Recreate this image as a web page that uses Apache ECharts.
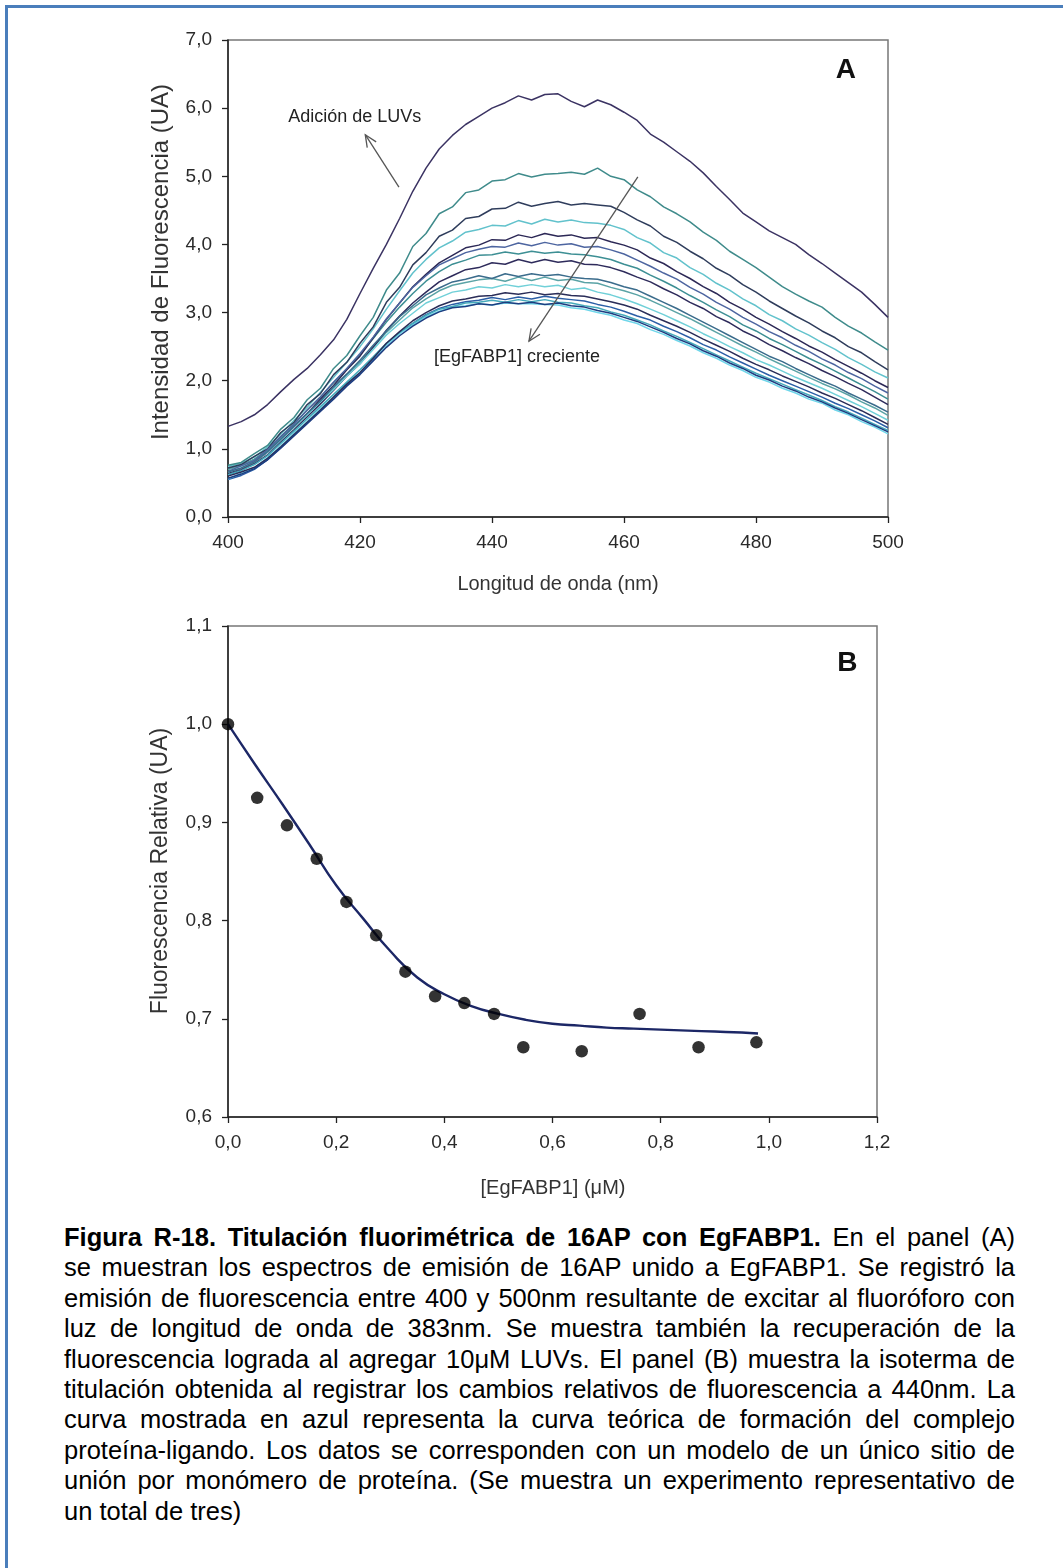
<!DOCTYPE html>
<html>
<head>
<meta charset="utf-8">
<script src="https://cdn.jsdelivr.net/npm/echarts@6/dist/echarts.min.js"></script>
<style>
  html, body { margin: 0; padding: 0; background: #fff; }
  #page { position: relative; width: 1063px; height: 1568px; overflow: hidden; background: #fff; }
  #frame { position: absolute; left: 5px; top: 5px; width: 1200px; height: 1700px;
           border-left: 3px solid #4a7ebb; border-top: 3px solid #4a7ebb; }
  #chart { position: absolute; left: 0; top: 0; width: 1063px; height: 1210px; }
  #caption { position: absolute; left: 64px; top: 1222px; width: 951px;
             font-family: 'Liberation Sans', Arial, sans-serif; font-size: 25.5px;
             line-height: 30.4px; color: #000; }
  #caption div { text-align: justify; text-align-last: justify; }
  #caption div.last { text-align-last: left; }
</style>
</head>
<body>
<div id="page">
  <div id="frame"></div>
  <div id="chart"></div>
  <div id="caption">
    <div><b>Figura R-18. Titulación fluorimétrica de 16AP con EgFABP1.</b> En el panel (A)</div>
    <div>se muestran los espectros de emisión de 16AP unido a EgFABP1. Se registró la</div>
    <div>emisión de fluorescencia entre 400 y 500nm resultante de excitar al fluoróforo con</div>
    <div>luz de longitud de onda de 383nm. Se muestra también la recuperación de la</div>
    <div>fluorescencia lograda al agregar 10μM LUVs. El panel (B) muestra la isoterma de</div>
    <div>titulación obtenida al registrar los cambios relativos de fluorescencia a 440nm. La</div>
    <div>curva mostrada en azul representa la curva teórica de formación del complejo</div>
    <div>proteína-ligando. Los datos se corresponden con un modelo de un único sitio de</div>
    <div>unión por monómero de proteína. (Se muestra un experimento representativo de</div>
    <div class="last">un total de tres)</div>
  </div>
</div>
<script>
// panel A: emission spectra, wavelength (nm)
const wavelength = [400,402,404,406,408,410,412,414,416,418,420,422,424,426,428,430,432,434,436,438,440,
  442,444,446,448,450,452,454,456,458,460,462,464,466,468,470,472,474,476,478,480,482,484,486,488,490,492,494,496,498,500];

// after adding LUVs
const specLUVs = [1.33,1.40,1.50,1.65,1.84,2.02,2.18,2.38,2.60,2.90,3.28,3.65,4.00,4.38,4.78,5.12,5.40,5.60,5.76,5.88,
  6.00,6.08,6.18,6.12,6.20,6.21,6.10,6.02,6.12,6.05,5.94,5.82,5.62,5.50,5.36,5.22,5.05,4.85,4.66,4.46,4.33,
  4.20,4.10,4.00,3.85,3.72,3.58,3.44,3.30,3.12,2.93];

// titration spectra, increasing [EgFABP1] (top to bottom)
const spec02 = [0.76,0.80,0.93,1.05,1.29,1.46,1.72,1.89,2.18,2.37,2.66,2.93,3.33,3.58,3.97,4.16,4.45,4.55,4.76,4.80,
  4.93,4.95,5.04,4.99,5.03,5.04,5.06,5.03,5.12,5.00,4.95,4.80,4.70,4.55,4.45,4.33,4.18,4.06,3.90,3.78,3.66,
  3.52,3.38,3.27,3.17,3.08,2.93,2.80,2.70,2.57,2.45];
const spec03 = [0.72,0.77,0.89,1.00,1.24,1.39,1.65,1.81,2.09,2.27,2.55,2.79,3.15,3.37,3.70,3.88,4.12,4.21,4.38,4.41,
  4.52,4.53,4.62,4.56,4.60,4.63,4.58,4.60,4.58,4.56,4.47,4.36,4.27,4.12,4.03,3.90,3.79,3.65,3.55,3.41,3.30,
  3.17,3.06,2.95,2.85,2.73,2.63,2.50,2.41,2.28,2.16];
const spec04 = [0.74,0.79,0.88,1.03,1.22,1.42,1.61,1.83,2.05,2.27,2.50,2.76,3.05,3.32,3.58,3.78,3.95,4.05,4.18,4.22,
  4.28,4.27,4.35,4.30,4.37,4.33,4.36,4.32,4.31,4.28,4.22,4.10,4.02,3.88,3.80,3.66,3.56,3.43,3.33,3.20,3.10,
  2.97,2.88,2.76,2.67,2.56,2.46,2.34,2.24,2.13,2.04];
const spec05 = [0.64,0.71,0.80,0.95,1.13,1.33,1.52,1.73,1.93,2.16,2.36,2.63,2.90,3.14,3.38,3.56,3.73,3.84,3.95,3.99,
  4.07,4.06,4.14,4.10,4.16,4.12,4.14,4.09,4.10,4.04,3.99,3.92,3.80,3.72,3.60,3.50,3.38,3.28,3.15,3.05,2.93,
  2.83,2.72,2.62,2.51,2.42,2.31,2.21,2.11,2.00,1.90];
const spec06 = [0.67,0.75,0.83,0.99,1.18,1.36,1.57,1.76,1.98,2.18,2.40,2.64,2.91,3.14,3.37,3.54,3.70,3.79,3.88,3.93,
  3.97,3.96,4.02,3.98,4.03,3.99,4.01,3.96,3.97,3.92,3.86,3.77,3.68,3.58,3.49,3.37,3.27,3.15,3.05,2.93,2.83,
  2.72,2.63,2.52,2.43,2.32,2.23,2.12,2.03,1.92,1.82];
const spec07 = [0.70,0.76,0.85,0.99,1.18,1.37,1.57,1.76,1.97,2.17,2.38,2.62,2.86,3.08,3.28,3.46,3.60,3.71,3.77,3.84,
  3.85,3.89,3.86,3.90,3.87,3.89,3.86,3.85,3.82,3.78,3.71,3.65,3.55,3.46,3.36,3.25,3.15,3.04,2.94,2.82,2.73,
  2.62,2.53,2.43,2.33,2.24,2.14,2.04,1.94,1.84,1.73];
const spec08 = [0.62,0.69,0.78,0.91,1.10,1.28,1.47,1.66,1.86,2.07,2.25,2.49,2.74,2.95,3.14,3.30,3.45,3.54,3.63,3.66,
  3.73,3.71,3.78,3.73,3.78,3.74,3.76,3.71,3.70,3.66,3.60,3.52,3.45,3.35,3.26,3.15,3.06,2.94,2.85,2.73,2.64,
  2.53,2.44,2.34,2.25,2.15,2.06,1.96,1.87,1.76,1.65];
const spec09 = [0.66,0.72,0.81,0.96,1.14,1.33,1.52,1.70,1.91,2.10,2.30,2.52,2.73,2.94,3.10,3.26,3.36,3.45,3.49,3.54,
  3.50,3.57,3.53,3.57,3.54,3.56,3.52,3.50,3.49,3.44,3.38,3.33,3.24,3.15,3.06,2.96,2.86,2.76,2.66,2.56,2.46,
  2.36,2.28,2.18,2.09,2.00,1.92,1.82,1.73,1.64,1.54];
const spec10 = [0.70,0.75,0.84,0.97,1.15,1.33,1.51,1.70,1.89,2.08,2.28,2.49,2.71,2.89,3.07,3.20,3.32,3.40,3.44,3.48,
  3.50,3.46,3.52,3.47,3.52,3.47,3.49,3.44,3.43,3.37,3.32,3.26,3.18,3.09,3.00,2.91,2.81,2.71,2.61,2.51,2.42,
  2.32,2.23,2.14,2.05,1.96,1.88,1.79,1.69,1.60,1.49];
const spec11 = [0.66,0.72,0.81,0.95,1.13,1.32,1.50,1.69,1.87,2.07,2.25,2.46,2.67,2.84,2.99,3.14,3.22,3.30,3.33,3.38,
  3.36,3.41,3.38,3.41,3.38,3.40,3.34,3.36,3.30,3.26,3.20,3.13,3.05,2.97,2.88,2.79,2.69,2.60,2.50,2.41,2.31,
  2.23,2.14,2.05,1.97,1.89,1.80,1.71,1.62,1.52,1.42];
const spec12 = [0.60,0.66,0.73,0.86,1.03,1.21,1.39,1.57,1.76,1.95,2.12,2.33,2.55,2.72,2.88,3.00,3.10,3.17,3.20,3.24,
  3.25,3.29,3.27,3.30,3.26,3.28,3.25,3.24,3.20,3.16,3.11,3.05,2.96,2.88,2.80,2.71,2.61,2.52,2.43,2.33,2.24,
  2.16,2.07,1.99,1.91,1.82,1.74,1.65,1.56,1.46,1.36];
const spec13 = [0.55,0.61,0.70,0.84,1.02,1.20,1.38,1.57,1.75,1.94,2.11,2.31,2.52,2.70,2.84,2.97,3.06,3.12,3.16,3.18,
  3.22,3.19,3.23,3.20,3.24,3.21,3.19,3.17,3.12,3.08,3.02,2.95,2.89,2.80,2.72,2.63,2.53,2.45,2.35,2.26,2.17,
  2.08,2.00,1.92,1.84,1.76,1.67,1.59,1.50,1.41,1.31];
const spec14 = [0.62,0.68,0.77,0.90,1.08,1.26,1.44,1.62,1.80,1.98,2.16,2.35,2.55,2.71,2.84,2.96,3.05,3.09,3.14,3.15,
  3.18,3.15,3.19,3.16,3.19,3.15,3.14,3.10,3.07,3.01,2.96,2.89,2.82,2.73,2.65,2.56,2.47,2.38,2.29,2.20,2.11,
  2.03,1.95,1.87,1.79,1.71,1.62,1.54,1.45,1.36,1.27];
const spec15 = [0.57,0.63,0.71,0.84,1.01,1.19,1.37,1.55,1.73,1.92,2.09,2.29,2.49,2.66,2.80,2.92,3.01,3.07,3.09,3.13,
  3.11,3.15,3.13,3.15,3.12,3.14,3.10,3.08,3.03,2.99,2.93,2.87,2.79,2.71,2.62,2.54,2.44,2.36,2.26,2.18,2.08,
  2.01,1.92,1.85,1.76,1.69,1.60,1.52,1.43,1.34,1.25];
const spec16 = [0.56,0.64,0.72,0.87,1.04,1.23,1.40,1.59,1.76,1.96,2.12,2.33,2.52,2.69,2.82,2.94,3.02,3.08,3.10,3.13,
  3.11,3.14,3.13,3.13,3.12,3.11,3.07,3.05,3.00,2.96,2.89,2.84,2.75,2.68,2.59,2.51,2.41,2.33,2.23,2.15,2.05,
  1.98,1.89,1.82,1.73,1.67,1.57,1.50,1.40,1.32,1.22];

const spectra = [specLUVs, spec02, spec03, spec04, spec05, spec06, spec07, spec08,
  spec09, spec10, spec11, spec12, spec13, spec14, spec15, spec16];
const specColors = ['#3b3363', '#3f8b8b', '#2f3d5c', '#62c2cc', '#2c2856', '#4d65a0', '#3d8f94', '#2e2b5b',
  '#3b6c8c', '#5aa3a6', '#70d0d8', '#2a2d58', '#2b5ea6', '#45aabb', '#1d3d80', '#6fd6ea'];

// panel B: titration isotherm at 440 nm
const conc = [0, 0.054, 0.109, 0.164, 0.219, 0.274, 0.328, 0.383, 0.437, 0.492, 0.546, 0.654, 0.761, 0.870, 0.977];
const relFluor = [1.000, 0.925, 0.897, 0.863, 0.819, 0.785, 0.748, 0.723, 0.716, 0.705, 0.671, 0.667, 0.705, 0.671, 0.676];
// theoretical binding curve
const fitConc = [0, 0.05, 0.10, 0.15, 0.20, 0.25, 0.30, 0.35, 0.40, 0.45, 0.50, 0.55, 0.60, 0.65, 0.70, 0.75, 0.80, 0.85, 0.90, 0.95, 0.98];
const fitRel = [1.000, 0.959, 0.919, 0.878, 0.836, 0.802, 0.769, 0.742, 0.725, 0.713, 0.705, 0.699, 0.695, 0.693, 0.691, 0.690, 0.689, 0.688, 0.687, 0.686, 0.685];

// annotations (data units of panel A / B)
const luvsText = [419.2, 5.87];
const luvsArrow = [[425.9, 4.84], [420.8, 5.61]];
const crecText = [443.8, 2.35];
const crecArrow = [[462.1, 4.99], [445.6, 2.58]];
const letterA = [493.6, 6.56];
const letterB = [1.145, 1.062];

const FONT = "'Liberation Sans', Arial, sans-serif";
const comma = d => v => v.toFixed(d).replace('.', ',');

const chart = echarts.init(document.getElementById('chart'));

function axisCommon(fmt) {
  return {
    axisLine: { show: true, onZero: false, lineStyle: { color: '#222', width: 1.5 } },
    axisTick: { show: true, length: 6, lineStyle: { color: '#222', width: 1.3 } },
    axisLabel: { fontSize: 19, color: '#2a2a2a', fontFamily: FONT, margin: 16, formatter: fmt },
    splitLine: { show: false }
  };
}

const seriesArr = spectra.map((arr, i) => ({
  name: i === 0 ? 'LUVs' : 'S' + i,
  type: 'line',
  xAxisIndex: 0,
  yAxisIndex: 0,
  data: wavelength.map((w, k) => [w, arr[k]]),
  showSymbol: false,
  lineStyle: { color: specColors[i], width: 1.5 },
  z: 2 + (i % 3)
}));

seriesArr.push({
  type: 'line',
  xAxisIndex: 1,
  yAxisIndex: 1,
  data: fitConc.map((c, k) => [c, fitRel[k]]),
  smooth: true,
  showSymbol: false,
  lineStyle: { color: '#1c2766', width: 2.4 },
  z: 3
});
seriesArr.push({
  type: 'scatter',
  xAxisIndex: 1,
  yAxisIndex: 1,
  data: conc.map((c, k) => [c, relFluor[k]]),
  symbolSize: 12.5,
  itemStyle: { color: '#000' },
  z: 4
});

chart.setOption({
  animation: false,
  backgroundColor: 'transparent',
  grid: [
    { left: 228, top: 40, width: 660, height: 477, show: true, borderColor: '#777', borderWidth: 1.5 },
    { left: 228, top: 626, width: 649, height: 491, show: true, borderColor: '#777', borderWidth: 1.5 }
  ],
  xAxis: [
    Object.assign({ type: 'value', gridIndex: 0, min: 400, max: 500, interval: 20 }, axisCommon(v => String(v))),
    Object.assign({ type: 'value', gridIndex: 1, min: 0, max: 1.2, interval: 0.2 }, axisCommon(comma(1)))
  ],
  yAxis: [
    Object.assign({ type: 'value', gridIndex: 0, min: 0, max: 7, interval: 1 }, axisCommon(comma(1))),
    Object.assign({ type: 'value', gridIndex: 1, min: 0.6, max: 1.1, interval: 0.1 }, axisCommon(comma(1)))
  ],
  series: seriesArr
});

// annotations, placed from data coordinates
function px(grid, p) { return chart.convertToPixel({ gridIndex: grid }, p); }
function arrow(p0, p1) {
  const a = Math.atan2(p1[1] - p0[1], p1[0] - p0[0]);
  const L = 13, s = 0.42;
  const w1 = [p1[0] - L * Math.cos(a - s), p1[1] - L * Math.sin(a - s)];
  const w2 = [p1[0] - L * Math.cos(a + s), p1[1] - L * Math.sin(a + s)];
  const st = { stroke: '#555', lineWidth: 1.3, fill: null };
  return [
    { type: 'polyline', shape: { points: [p0, p1] }, style: st, z: 10 },
    { type: 'polyline', shape: { points: [w1, p1, w2] }, style: st, z: 10 }
  ];
}
function label(p, text, size, weight, color) {
  return { type: 'text', x: p[0], y: p[1], z: 10,
    style: { text: text, fontSize: size, fontWeight: weight || 'normal', fontFamily: FONT,
             fill: color || '#222', align: 'center', verticalAlign: 'middle' } };
}
function vlabel(x, y, text, size) {
  return { type: 'text', x: x, y: y, rotation: Math.PI / 2, z: 10,
    style: { text: text, fontSize: size, fontFamily: FONT, fill: '#333', align: 'center', verticalAlign: 'middle' } };
}

const g = [];
g.push(label(px(0, luvsText), 'Adición de LUVs', 18));
g.push(...arrow(px(0, luvsArrow[0]), px(0, luvsArrow[1])));
g.push(label(px(0, crecText), '[EgFABP1] creciente', 18));
g.push(...arrow(px(0, crecArrow[0]), px(0, crecArrow[1])));
g.push(label(px(0, letterA), 'A', 28, 'bold', '#111'));
g.push(label(px(1, letterB), 'B', 28, 'bold', '#111'));
g.push(label([558, 584], 'Longitud de onda (nm)', 20, 'normal', '#333'));
g.push(label([553, 1188], '[EgFABP1] (μM)', 20, 'normal', '#333'));
g.push(vlabel(161, 262, 'Intensidad de Fluorescencia (UA)', 24));
g.push(vlabel(161, 871, 'Fluorescencia Relativa (UA)', 23));
chart.setOption({ graphic: g });
</script>
</body>
</html>
